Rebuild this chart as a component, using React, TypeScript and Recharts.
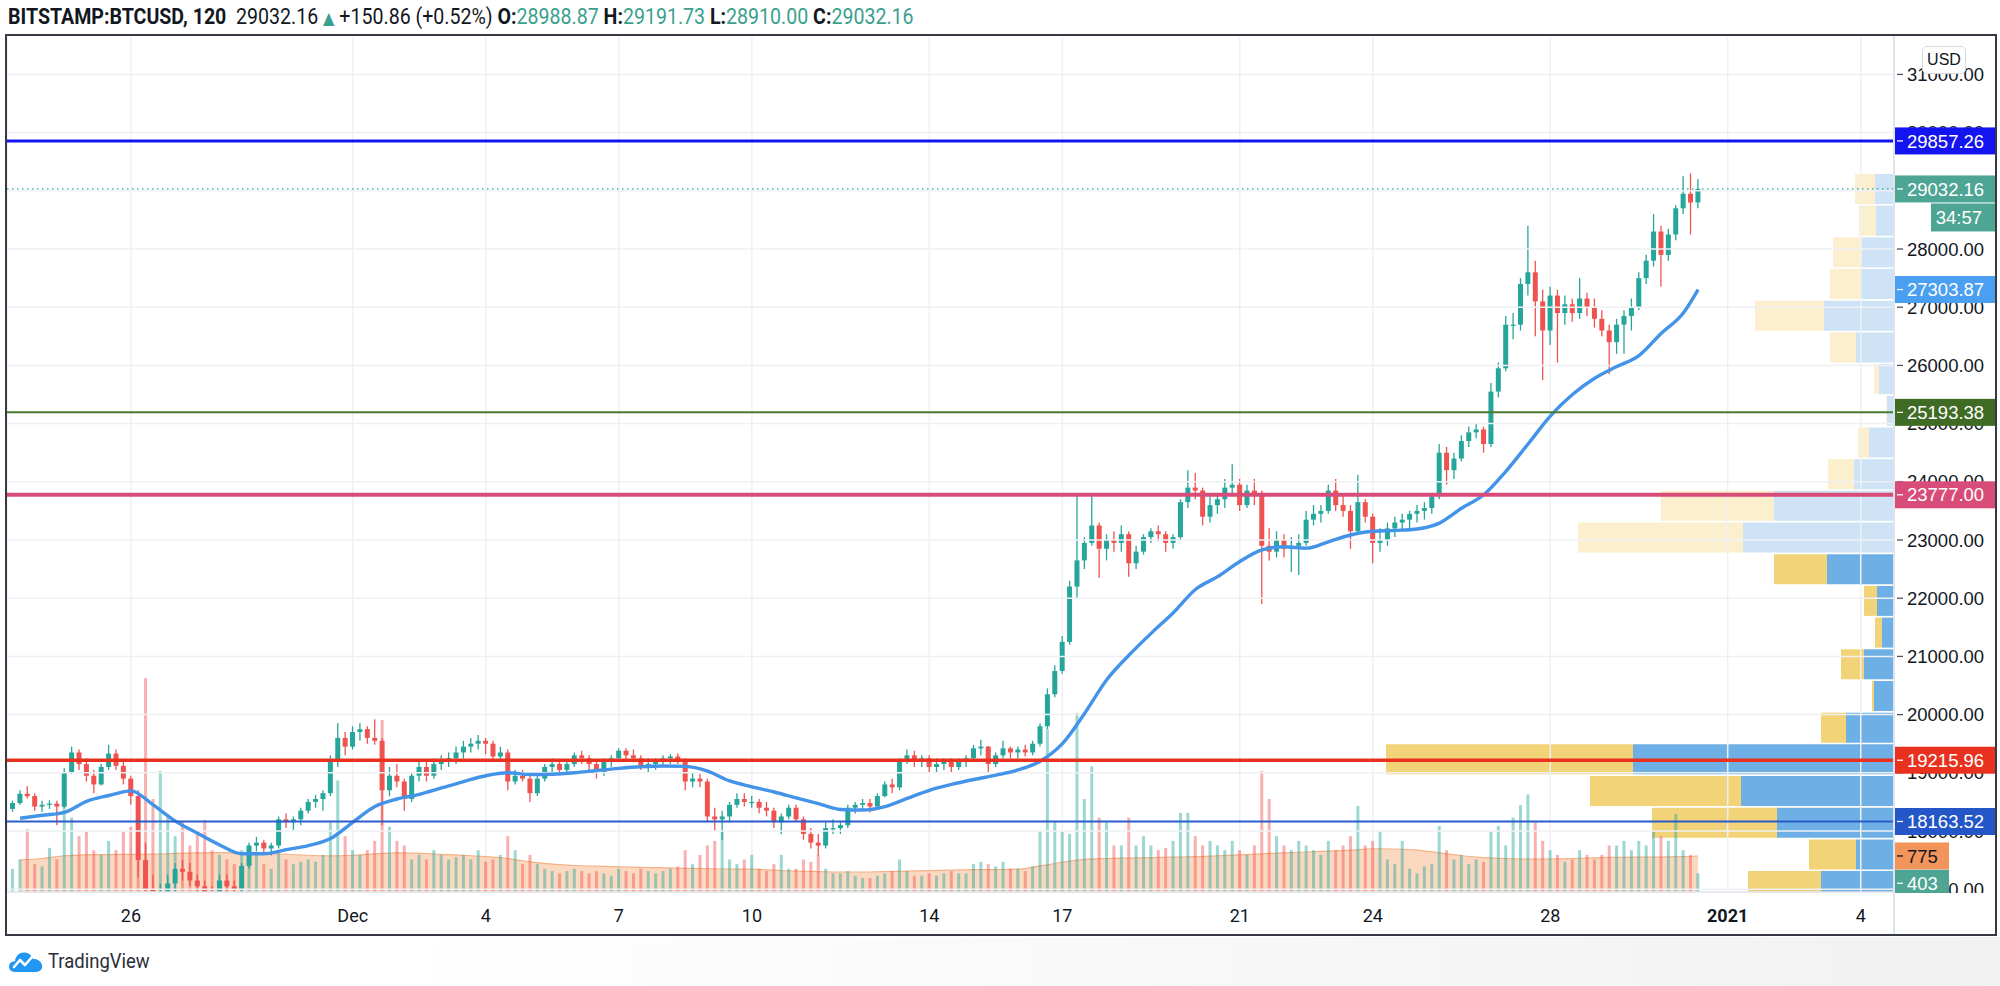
import React from 'react';
import {
  ComposedChart, Bar, Line, Area, XAxis, YAxis, CartesianGrid, ReferenceLine, Cell,
} from 'recharts';

const W = 2000;
const H = 986;
const UP = '#26a69a';
const DOWN = '#ef5350';
const NARROW = 'Roboto, "Liberation Sans", sans-serif';
const SANS = '"Liberation Sans", Arial, sans-serif';

// header: last 2h bar O, H, L, C and change
const lastBar = [28988.87, 29191.73, 28910.0, 29032.16];
const lastChange = [150.86, 0.52];

// 4h bars, bar index 0 = 26 Nov 2020 00:00 UTC; first bar = 23 Nov 08:00
const FIRST_BAR = -16;
const FIRST_OPEN = 18380;

const highs = [
  18520, 18700, 18770, 18650,
  18520, 18530, 18520, 19080, 19450, 19400,
  19250, 19050, 19150, 19480, 19400, 19200,
  18950, 18700, 17800, 17250, 17100, 17250,
  17450, 17500, 17450, 17250, 17150, 17050,
  17250, 17250, 17150, 17450, 17800, 17900,
  17850, 17800, 18250, 18300, 18250, 18400,
  18550, 18620, 18700, 19300, 19850, 19700,
  19800, 19850, 19800, 19920, 19600, 19100,
  19150, 18900, 19000, 19200, 19200, 19250,
  19300, 19350, 19450, 19550, 19600, 19650,
  19600, 19550, 19450, 19400, 19050, 19050,
  18950, 18950, 19150, 19250, 19200, 19200,
  19350, 19380, 19300, 19200, 19250, 19300,
  19420, 19420, 19400, 19300, 19250, 19250,
  19300, 19320, 19330, 19250, 19000, 18980,
  18900, 18400, 18350, 18500, 18650, 18650,
  18600, 18550, 18500, 18400, 18300, 18450,
  18450, 18250, 18050, 17950, 18150, 18200,
  18150, 18450, 18500, 18550, 18550, 18650,
  18850, 18900, 19250, 19400, 19380, 19300,
  19300, 19250, 19250, 19250, 19250, 19300,
  19480, 19570, 19460, 19350, 19550, 19450,
  19450, 19480, 19550, 19850, 20450, 20850,
  21350, 22300, 23800, 23050, 23750, 23300,
  23100, 23150, 23250, 23150, 22900, 23100,
  23200, 23250, 23150, 23100, 23700, 24200,
  24150, 23900, 23750, 23800, 24050, 24300,
  24050, 23950, 24050, 23850, 23200, 23150,
  23100, 23050, 23100, 23500, 23600, 23600,
  23950, 24050, 23800, 23600, 24120, 23700,
  23450, 23200, 23300, 23400, 23450, 23500,
  23600, 23650, 23800, 24650, 24600, 24500,
  24800, 24950, 25000, 24950, 25700, 26050,
  26850, 26900, 27500, 28400, 27800, 27300,
  27350, 27300, 27200, 27150, 27500, 27250,
  27150, 26950, 26700, 26800, 26950, 27150,
  27600, 27900, 28600, 28400, 28350, 28750,
  29250, 29300, 29200,
];

const lows = [
  18330, 18450, 18560, 18350,
  18330, 18380, 18100, 18400, 18980, 19050,
  18850, 18650, 18780, 19050, 19050, 18800,
  18450, 17200, 16800, 16300, 16350, 16700,
  16950, 17150, 17050, 16900, 16700, 16600,
  16850, 16950, 16800, 16950, 17350, 17650,
  17600, 17580, 17700, 18050, 18020, 18100,
  18300, 18400, 18350, 18600, 19100, 19300,
  19400, 19550, 19500, 19480, 18100, 18600,
  18750, 18350, 18500, 18850, 18850, 18900,
  19050, 19100, 19150, 19250, 19350, 19400,
  19320, 19200, 19200, 18700, 18800, 18850,
  18500, 18600, 18850, 19000, 19000, 18980,
  19100, 19150, 19050, 18900, 18950, 19100,
  19200, 19200, 19180, 19050, 19000, 19050,
  19100, 19150, 19150, 18700, 18750, 18750,
  18150, 18000, 17850, 18150, 18400, 18420,
  18400, 18300, 18250, 18050, 17950, 18200,
  18150, 17850, 17700, 17580, 17700, 17950,
  17950, 18050, 18300, 18350, 18320, 18400,
  18580, 18650, 18700, 19150, 19100, 19100,
  19000, 19000, 19050, 19000, 19050, 19100,
  19200, 19300, 19000, 19100, 19250, 19250,
  19250, 19280, 19300, 19450, 19750, 20300,
  20700, 21200, 22000, 22500, 22900, 22350,
  22650, 22800, 22800, 22370, 22500, 22750,
  22950, 22980, 22800, 22850, 23000, 23550,
  23700, 23250, 23300, 23450, 23550, 23750,
  23500, 23550, 23600, 21900, 22650, 22700,
  22700, 22450, 22400, 22900, 23250, 23300,
  23450, 23500, 23400, 22850, 23100, 23300,
  22600, 22800, 22900, 23050, 23150, 23200,
  23300, 23350, 23450, 23700, 23950, 24050,
  24350, 24600, 24750, 24500, 24600, 25450,
  25900, 26450, 26600, 27200, 26500, 25750,
  26350, 26050, 26700, 26750, 26800, 26850,
  26650, 26500, 25850, 26200, 26200, 26600,
  26950, 27400, 27700, 27350, 27800, 28150,
  28600, 28250, 28700,
];

const closes = [
  18480, 18640, 18600, 18420,
  18450, 18470, 18420, 19000, 19350, 19150,
  18950, 18800, 19100, 19330, 19120, 18900,
  18600, 17500, 17000, 16700, 16800, 17100,
  17350, 17300, 17150, 17050, 16900, 16850,
  17150, 17050, 17000, 17400, 17750, 17800,
  17700, 17750, 18200, 18150, 18200, 18350,
  18500, 18550, 18650, 19200, 19600, 19450,
  19700, 19750, 19600, 19550, 18700, 18950,
  18850, 18550, 18950, 19100, 18950, 19150,
  19200, 19250, 19350, 19450, 19500, 19550,
  19500, 19280, 19350, 18850, 18950, 18900,
  18650, 18900, 19100, 19150, 19050, 19150,
  19300, 19250, 19150, 19000, 19200, 19250,
  19380, 19300, 19250, 19100, 19150, 19200,
  19250, 19280, 19220, 18850, 18900, 18850,
  18250, 18200, 18250, 18450, 18550, 18500,
  18500, 18400, 18350, 18150, 18250, 18400,
  18200, 17950, 17800, 17750, 18050, 18050,
  18100, 18400, 18450, 18480, 18420, 18600,
  18800, 18750, 19200, 19300, 19200, 19250,
  19100, 19150, 19200, 19100, 19200, 19250,
  19420, 19450, 19150, 19300, 19420, 19350,
  19400, 19350, 19500, 19800, 20350, 20750,
  21250, 22200, 22650, 22950, 23250, 22850,
  23000, 22950, 23100, 22600, 22800, 23050,
  23150, 23100, 22950, 23050, 23650, 23900,
  23850, 23400, 23600, 23700, 23900, 23950,
  23600, 23850, 23800, 22900, 22800, 23000,
  22850, 22900, 22950, 23350, 23450, 23500,
  23850, 23600, 23500, 23150, 23650, 23400,
  22950, 23000, 23200, 23300, 23350, 23450,
  23500, 23550, 23750, 24500, 24200, 24400,
  24700, 24850, 24900, 24650, 25550, 25950,
  26700, 26700, 27400, 27600, 27100, 26600,
  27200, 26900, 27050, 26900, 27150, 27000,
  26800, 26600, 26400, 26700, 26850, 27000,
  27500, 27800, 28300, 27900, 28250, 28700,
  28950, 28800, 29032.16,
];

const volumes = [
  500, 700, 1350, 600,
  550, 950, 700, 1900, 1600, 1200,
  1300, 900, 800, 1100, 900, 1300,
  1400, 2000, 4600, 2000, 2600, 1600,
  1200, 1500, 1000, 1300, 1550, 900,
  800, 700, 600, 900, 1000, 800,
  600, 500, 900, 700, 600, 650,
  700, 650, 800, 1500, 2400, 1200,
  900, 800, 900, 1100, 3700, 1400,
  1100, 1000, 700, 800, 700, 900,
  800, 700, 750, 800, 700, 900,
  650, 700, 800, 1200, 900, 600,
  800, 600, 500, 450, 400, 450,
  500, 450, 400, 450, 400, 350,
  500, 450, 400, 500, 450, 400,
  450, 500, 550, 900, 600, 800,
  1000, 1100, 1300, 700, 600, 700,
  800, 500, 450, 600, 800, 500,
  500, 700, 650, 800, 500, 400,
  400, 450, 350, 300, 300, 350,
  400, 450, 700, 450, 350, 350,
  400, 350, 400, 450, 400, 400,
  600, 650, 600, 550, 650, 500,
  500, 450, 550, 1300, 3500, 1500,
  1300, 1250, 3850, 2000, 2700, 1600,
  1500, 1000, 1000, 1600, 1000, 1200,
  1000, 900, 950, 1100, 1700, 1700,
  1200, 1000, 1100, 1000, 900, 1100,
  900, 800, 1000, 2600, 2000, 1200,
  1000, 900, 1100, 1000, 900, 800,
  1100, 900, 1000, 1200, 1850, 1000,
  1100, 1300, 700, 600, 1100, 500,
  400, 550, 600, 1420, 900, 700,
  800, 600, 700, 650, 1300, 1420,
  1000, 1600, 1870, 2100, 1500, 1100,
  900, 800, 650, 700, 900, 800,
  700, 800, 1000, 1000, 1100, 900,
  1100, 1000, 1300, 1200, 1100, 1680,
  900, 800, 403,
];

// moving average (blue line), read every 12h: [bar, price]
const ma50: [number, number][] = [
  [-15, 18220], [-12, 18270], [-9, 18320], [-6, 18510], [-3, 18610], [0, 18690],
  [3, 18450], [6, 18170], [9, 17960], [12, 17760], [15, 17610], [18, 17610],
  [21, 17680], [24, 17750], [27, 17870], [30, 18150], [33, 18420], [36, 18550],
  [39, 18630], [42, 18740], [45, 18850], [48, 18950], [51, 19000], [54, 18970],
  [57, 18975], [60, 19000], [63, 19040], [66, 19077], [69, 19105], [72, 19117],
  [75, 19110], [78, 19030], [81, 18860], [84, 18760], [87, 18670], [90, 18570],
  [93, 18470], [96, 18370], [99, 18360], [102, 18420], [105, 18560], [108, 18700],
  [111, 18800], [114, 18885], [117, 18960], [120, 19050], [123, 19200], [126, 19500],
  [129, 20020], [132, 20600], [135, 21020], [138, 21396], [141, 21750], [144, 22150],
  [147, 22370], [150, 22630], [153, 22830], [156, 22885], [159, 22860], [162, 22970],
  [165, 23086], [168, 23150], [171, 23165], [174, 23190], [177, 23290], [180, 23546],
  [183, 23777], [186, 24181], [189, 24650], [192, 25130], [195, 25500], [198, 25780],
  [201, 25980], [204, 26170], [207, 26550], [210, 26900], [212, 27303.87],
];

// volume moving average (orange area), every 12h: [bar, volume]
const volMa: [number, number][] = [
  [-15, 690], [-12, 720], [-9, 780], [-6, 800], [-3, 805], [0, 810], [3, 815],
  [6, 830], [9, 840], [12, 845], [15, 840], [18, 830], [21, 810], [24, 790],
  [27, 775], [30, 790], [33, 820], [36, 840], [39, 830], [42, 810], [45, 790],
  [48, 760], [51, 720], [54, 650], [57, 600], [60, 570], [63, 555], [66, 540],
  [69, 530], [72, 520], [75, 510], [78, 500], [81, 495], [84, 490], [87, 470],
  [90, 450], [93, 440], [96, 430], [99, 430], [102, 440], [105, 450], [108, 460],
  [111, 470], [114, 480], [117, 480], [120, 490], [123, 560], [126, 640], [129, 700],
  [132, 720], [135, 730], [138, 740], [141, 750], [144, 760], [147, 780], [150, 800],
  [153, 820], [156, 840], [159, 860], [162, 880], [165, 900], [168, 930], [171, 925],
  [174, 900], [177, 840], [180, 780], [183, 740], [186, 720], [189, 710], [192, 710],
  [195, 720], [198, 735], [201, 745], [204, 750], [207, 750], [210, 760], [212, 775],
];

// time axis
const xTicks = [0, 30, 48, 66, 84, 108, 126, 150, 168, 192, 216, 234];
const xTickLabels = ['26', 'Dec', '4', '7', '10', '14', '17', '21', '24', '28', '2021', '4'];
const priceTicks = [17000, 18000, 19000, 20000, 21000, 22000, 23000, 24000, 25000, 26000, 27000, 28000, 29000, 30000, 31000];

// horizontal levels drawn on the chart
const levelPrices = [29857.26, 25193.38, 23777.0, 19215.96, 18163.52];
const levelColors = ['#1414f0', '#4a7a2c', '#d84c79', '#e8321f', '#2b5ccc'];
const levelTagColors = ['#1414f0', '#3f6b25', '#d84c79', '#e8321f', '#2456c8'];
const levelWidths = [3, 2, 4, 3.5, 2];

// visible range volume profile: row bounds, up / down volume, value area
const vpBounds = [
  16784, 17329, 17873, 18418, 18962, 19506, 20051, 20595, 21140, 21684, 22229, 22773,
  23318, 23862, 24406, 24951, 25495, 26040, 26584, 27128, 27673, 28217, 28762, 29306,
];
const vpUp = [14.6, 7.6, 23.4, 30.6, 52.2, 9.6, 4.0, 6.0, 2.4, 3.4, 13.4, 30.2, 24.0, 8.0, 5.0, 1.4, 3.0, 7.6, 14.0, 6.8, 6.4, 3.6, 3.8];
const vpDown = [14.6, 9.4, 25.0, 30.2, 49.4, 5.0, 0.4, 4.6, 1.4, 2.6, 10.6, 33.0, 22.6, 5.2, 2.2, 0.1, 1.0, 5.2, 13.8, 6.0, 5.8, 3.4, 4.0];
const valueArea = [16784, 22773];

const lastVolume = 403;
const lastVolMa = 775;
const countdown = '34:57';

// ---- derived chart rows ----
const maMap = new Map(ma50);
const vmaMap = new Map(volMa);
const rows = closes.map((c, i) => {
  const j = FIRST_BAR + i;
  const o = i === 0 ? FIRST_OPEN : closes[i - 1];
  return {
    j, o, c,
    range: [lows[i], highs[i]],
    vol: volumes[i],
    up: c >= o,
    ma: maMap.has(j) ? maMap.get(j) : null,
    vma: vmaMap.has(j) ? vmaMap.get(j) : null,
  };
});

const vpRows = vpUp.map((u, k) => ({
  mid: (vpBounds[k] + vpBounds[k + 1]) / 2,
  up: u,
  down: vpDown[k],
  inVa: vpBounds[k] >= valueArea[0] && vpBounds[k + 1] <= valueArea[1],
}));

const X_DOMAIN: [number, number] = [-16.77, 238.5];
const P_DOMAIN: [number, number] = [16952, 31643];
const MARGIN = { top: 37, right: 106, bottom: 52, left: 7 };

const Candle = (props: any) => {
  const { x, y, width, height, payload } = props;
  if (x == null || !payload) return null;
  const [lo, hi] = payload.range;
  const top = Math.min(y, y + height);
  const h = Math.abs(height);
  const py = (p: number) => top + ((hi - p) / (hi - lo)) * h;
  const color = payload.up ? UP : DOWN;
  const bTop = py(Math.max(payload.o, payload.c));
  const bBot = py(Math.min(payload.o, payload.c));
  const cx = x + width / 2;
  return (
    <g>
      <line x1={cx} x2={cx} y1={top} y2={top + h} stroke={color} strokeWidth={1.3} />
      <rect x={x} y={bTop} width={width} height={Math.max(1.2, bBot - bTop)} fill={color} />
    </g>
  );
};

const VolBar = (props: any) => {
  const { x, y, width, height, payload } = props;
  if (x == null || !payload) return null;
  return <rect x={x} y={y} width={width} height={Math.max(0, height)} fill={payload.up ? UP : DOWN} fillOpacity={0.45} />;
};

const TimeTick = (props: any) => {
  const { x, y, payload } = props;
  const label = xTickLabels[xTicks.indexOf(payload.value)];
  return (
    <text x={x} y={y + 15} textAnchor="middle" dominantBaseline="central" fontSize={18}
      fontWeight={label === '2021' ? 700 : 400} fill="#131722" fontFamily={NARROW}>
      {label}
    </text>
  );
};

const AxisLabel = ({ viewBox, text }: any) => {
  if (!viewBox) return null;
  const x0 = viewBox.x + viewBox.width;
  const y = viewBox.y;
  return (
    <g>
      <line x1={x0 + 3} x2={x0 + 9} y1={y} y2={y} stroke="#50535e" strokeWidth={1.3} />
      <text x={x0 + 13} y={y} dy="0.36em" fill="#131722" fontSize={18.5} fontFamily={SANS}>{text}</text>
    </g>
  );
};

const Tag = ({ viewBox, text, bg, fg = '#fff', w = 102, dy = 0 }: any) => {
  if (!viewBox) return null;
  const x0 = viewBox.x + viewBox.width;
  const y = viewBox.y + dy;
  return (
    <g>
      <rect x={x0} y={y - 13.5} width={w} height={27} fill={bg} />
      <line x1={x0 + 3} x2={x0 + 9} y1={y} y2={y} stroke={fg} strokeWidth={1.3} />
      <text x={x0 + 13} y={y} dy="0.36em" fill={fg} fontSize={18.5} fontFamily={SANS}>{text}</text>
    </g>
  );
};

const PriceTag = ({ viewBox, text, sub, bg }: any) => {
  if (!viewBox) return null;
  const x0 = viewBox.x + viewBox.width;
  const y = viewBox.y;
  return (
    <g>
      <rect x={x0} y={y - 13.5} width={102} height={27} fill={bg} />
      <line x1={x0 + 3} x2={x0 + 9} y1={y} y2={y} stroke="#fff" strokeWidth={1.3} />
      <text x={x0 + 13} y={y} dy="0.36em" fill="#fff" fontSize={18.5} fontFamily={SANS}>{text}</text>
      <rect x={x0 + 37} y={y + 14.5} width={65} height={28} fill={bg} />
      <text x={x0 + 88} y={y + 28.5} dy="0.36em" textAnchor="end" fill="#fff" fontSize={18.5} fontFamily={SANS}>{sub}</text>
    </g>
  );
};

const TvLogo = () => (
  <svg width={36} height={30} viewBox="0 0 36 30">
    <path d="M7 26 C2 26 0 22 1.5 18.5 C2.5 16 5 15 7 15.2 C7.5 9.5 12 6 17 6.5 C21 7 24 9.5 25 13 C29 12.5 33 15 34 19 C35 23 32 26 28 26 Z" fill="#2196f3" />
    <polyline points="6,21 12,14 17,19 24,11" fill="none" stroke="#fff" strokeWidth={2.6} strokeLinejoin="round" strokeLinecap="round" />
  </svg>
);

export default function App() {
  const teal = { color: '#3a9f8c' };
  return (
    <div style={{ position: 'absolute', left: 0, top: 0, width: W, height: H, background: '#fff', overflow: 'hidden' }}>
      {/* header */}
      <div style={{ position: 'absolute', left: 8, top: 3, fontFamily: NARROW, fontSize: 22.5, color: '#131722', whiteSpace: 'nowrap', lineHeight: '26px', transform: 'scaleX(0.87)', transformOrigin: 'left center' }}>
        <b>BITSTAMP:BTCUSD, 120</b>&nbsp; {lastBar[3].toFixed(2)} <span style={{ ...teal, fontFamily: '"DejaVu Sans", sans-serif', fontSize: 17 }}>▲</span> +{lastChange[0].toFixed(2)} (+{lastChange[1].toFixed(2)}%)&nbsp;
        <b>O:</b><span style={teal}>{lastBar[0].toFixed(2)}</span>&nbsp;
        <b>H:</b><span style={teal}>{lastBar[1].toFixed(2)}</span>&nbsp;
        <b>L:</b><span style={teal}>{lastBar[2].toFixed(2)}</span>&nbsp;
        <b>C:</b><span style={teal}>{lastBar[3].toFixed(2)}</span>
      </div>

      {/* bottom strip */}
      <div style={{ position: 'absolute', left: 0, top: 937, width: W, height: 49, background: 'linear-gradient(to right, #ffffff 20%, #f1f1f1 100%)' }} />

      {/* volume profile (below the main chart) */}
      <div style={{ position: 'absolute', left: 0, top: 0 }}>
        <ComposedChart width={W} height={H} data={vpRows} layout="vertical"
          margin={{ top: 37, right: 106, bottom: 94, left: 7 }}>
          <XAxis type="number" domain={[0, 377.4]} reversed hide />
          <YAxis type="number" dataKey="mid" domain={P_DOMAIN} allowDataOverflow reversed hide />
          <Bar dataKey="up" stackId="vp" barSize={30} isAnimationActive={false}>
            {vpRows.map((r, k) => <Cell key={k} fill={r.inVa ? '#6eb0e6' : '#cfe3f6'} />)}
          </Bar>
          <Bar dataKey="down" stackId="vp" barSize={30} isAnimationActive={false}>
            {vpRows.map((r, k) => <Cell key={k} fill={r.inVa ? '#f2d378' : '#fcefcd'} />)}
          </Bar>
        </ComposedChart>
      </div>

      {/* main price chart */}
      <div style={{ position: 'absolute', left: 0, top: 0 }}>
        <ComposedChart width={W} height={H} data={rows} margin={MARGIN}>
          <CartesianGrid xAxisId="x" yAxisId="p" horizontal={false} stroke="#eef0f4" strokeWidth={1.5} />
          <XAxis xAxisId="x" type="number" dataKey="j" domain={X_DOMAIN} allowDataOverflow ticks={xTicks}
            interval={0} height={42} tick={<TimeTick />} tickLine={false}
            axisLine={{ stroke: '#e0e3eb', strokeWidth: 1.5 }} />
          <XAxis xAxisId="xv" type="number" dataKey="j" domain={X_DOMAIN} allowDataOverflow hide />
          <YAxis yAxisId="p" type="number" domain={P_DOMAIN} allowDataOverflow hide />
          <YAxis yAxisId="v" type="number" domain={[0, 18390]} allowDataOverflow hide />

          {priceTicks.map((p) => (
            <ReferenceLine key={p} xAxisId="x" yAxisId="p" y={p} stroke="#eef0f4" strokeWidth={1.5}
              label={<AxisLabel text={p.toFixed(2)} />} />
          ))}

          <Bar xAxisId="xv" yAxisId="v" dataKey="vol" barSize={3} shape={VolBar} isAnimationActive={false} />
          <Area xAxisId="x" yAxisId="v" dataKey="vma" type="monotone" connectNulls stroke="#f5b088"
            strokeWidth={1.2} fill="#f5a064" fillOpacity={0.4} dot={false} activeDot={false} isAnimationActive={false} />
          <Bar xAxisId="x" yAxisId="p" dataKey="range" barSize={5} shape={Candle} isAnimationActive={false} />
          <Line xAxisId="x" yAxisId="p" dataKey="ma" type="monotone" connectNulls stroke="#4393e9"
            strokeWidth={3.4} dot={false} activeDot={false} isAnimationActive={false} />

          {levelPrices.map((p, k) => (
            <ReferenceLine key={`lv${k}`} xAxisId="x" yAxisId="p" y={p} stroke={levelColors[k]}
              strokeWidth={levelWidths[k]} label={<Tag text={p.toFixed(2)} bg={levelTagColors[k]} />} />
          ))}

          <ReferenceLine xAxisId="x" yAxisId="p" y={lastBar[3]} stroke={UP} strokeWidth={1.3}
            strokeDasharray="1.5 3.5" label={<PriceTag text={lastBar[3].toFixed(2)} sub={countdown} bg="#4fa594" />} />
          <ReferenceLine xAxisId="x" yAxisId="p" y={ma50[ma50.length - 1][1]} stroke="none"
            label={<Tag text={ma50[ma50.length - 1][1].toFixed(2)} bg="#4a9ff0" />} />
          <ReferenceLine xAxisId="x" yAxisId="v" y={lastVolMa} stroke="none"
            label={<Tag text={String(lastVolMa)} bg="#f3955a" fg="#131722" w={55} />} />
          <ReferenceLine xAxisId="x" yAxisId="v" y={lastVolume} stroke="none"
            label={<Tag text={String(lastVolume)} bg="#4fa594" w={55} dy={10} />} />
        </ComposedChart>
      </div>

      {/* price scale corner under the time axis */}
      <div style={{ position: 'absolute', left: 1895, top: 893, width: 101, height: 42, background: '#fff' }} />
      {/* price scale separator */}
      <div style={{ position: 'absolute', left: 1893, top: 36, width: 1.5, height: 899, background: '#e0e3eb' }} />

      {/* USD badge */}
      <div style={{ position: 'absolute', left: 1922, top: 46, width: 44, height: 28, boxSizing: 'border-box', border: '1px solid #d6d8de', borderRadius: 5, background: '#fff', fontFamily: SANS, fontSize: 16, color: '#131722', textAlign: 'center', lineHeight: '26px' }}>USD</div>

      {/* frame */}
      <div style={{ position: 'absolute', left: 5, top: 34, width: 1992, height: 902, boxSizing: 'border-box', border: '2px solid #363a45', pointerEvents: 'none' }} />

      {/* TradingView logo */}
      <div style={{ position: 'absolute', left: 8, top: 946, display: 'flex', alignItems: 'center', gap: 4 }}>
        <TvLogo />
        <span style={{ fontFamily: NARROW, fontSize: 21, color: '#2a2e39', display: 'inline-block', transform: 'scaleX(0.88)', transformOrigin: 'left center' }}>TradingView</span>
      </div>
    </div>
  );
}
